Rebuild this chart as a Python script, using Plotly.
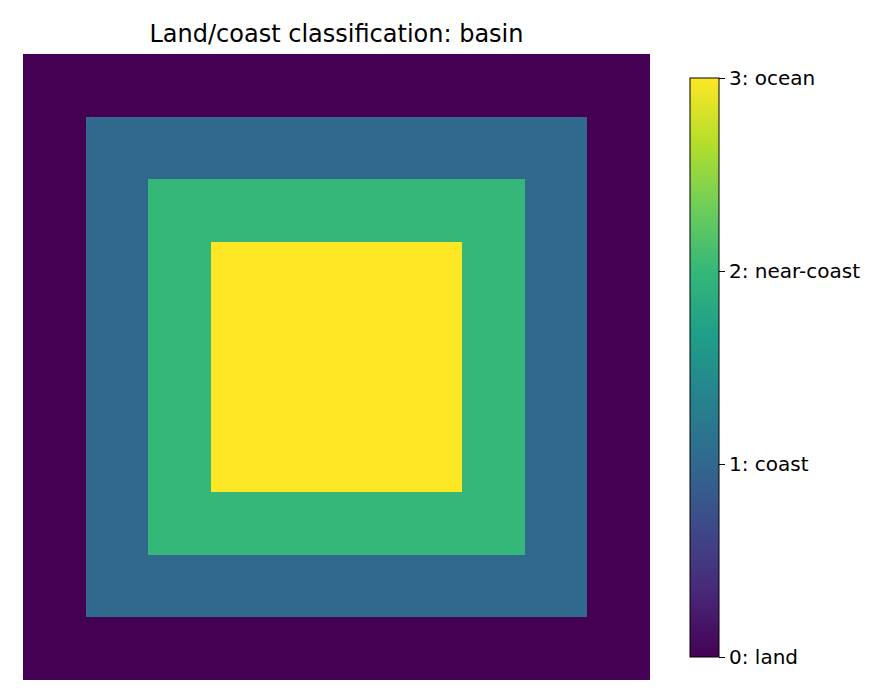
import plotly.graph_objects as go

# land/coast classes per grid cell (10 x 10)
grid = [
    [0, 0, 0, 0, 0, 0, 0, 0, 0, 0],
    [0, 1, 1, 1, 1, 1, 1, 1, 1, 0],
    [0, 1, 2, 2, 2, 2, 2, 2, 1, 0],
    [0, 1, 2, 3, 3, 3, 3, 2, 1, 0],
    [0, 1, 2, 3, 3, 3, 3, 2, 1, 0],
    [0, 1, 2, 3, 3, 3, 3, 2, 1, 0],
    [0, 1, 2, 3, 3, 3, 3, 2, 1, 0],
    [0, 1, 2, 2, 2, 2, 2, 2, 1, 0],
    [0, 1, 1, 1, 1, 1, 1, 1, 1, 0],
    [0, 0, 0, 0, 0, 0, 0, 0, 0, 0],
]
tick_vals = [0, 1, 2, 3]
tick_labels = ["0: land", "1: coast", "2: near-coast", "3: ocean"]

W, H = 876, 688
L, R, T, B = 15, 642, 46, 672
pw, ph = R - L, B - T

fig = go.Figure(go.Heatmap(
    z=grid,
    colorscale="Viridis",
    zmin=0, zmax=3,
    colorbar=dict(
        tickvals=tick_vals,
        ticktext=tick_labels,
        ticks="outside",
        ticklen=6,
        tickcolor="black",
        thickness=29,
        thicknessmode="pixels",
        len=579 / ph,
        lenmode="fraction",
        x=(682 - L) / pw, xanchor="left",
        y=(B - 649) / ph, yanchor="bottom",
        outlinewidth=1,
        outlinecolor="black",
        xpad=0, ypad=0,
        tickfont=dict(family="DejaVu Sans", size=20, color="black"),
    ),
))

fig.update_layout(
    width=W, height=H,
    margin=dict(l=L, r=W - R, t=T, b=H - B, autoexpand=False),
    plot_bgcolor="white",
    paper_bgcolor="white",
    title=dict(
        text="Land/coast classification: basin",
        xref="container", yref="container",
        x=(L + R) / 2 / W, xanchor="center",
        y=1 - 26 / H, yanchor="middle",
        font=dict(family="DejaVu Sans", size=24, color="black"),
    ),
)
fig.update_xaxes(visible=False, range=[-0.5, 9.5])
fig.update_yaxes(visible=False, range=[9.5, -0.5])

fig.write_html("out.html")
